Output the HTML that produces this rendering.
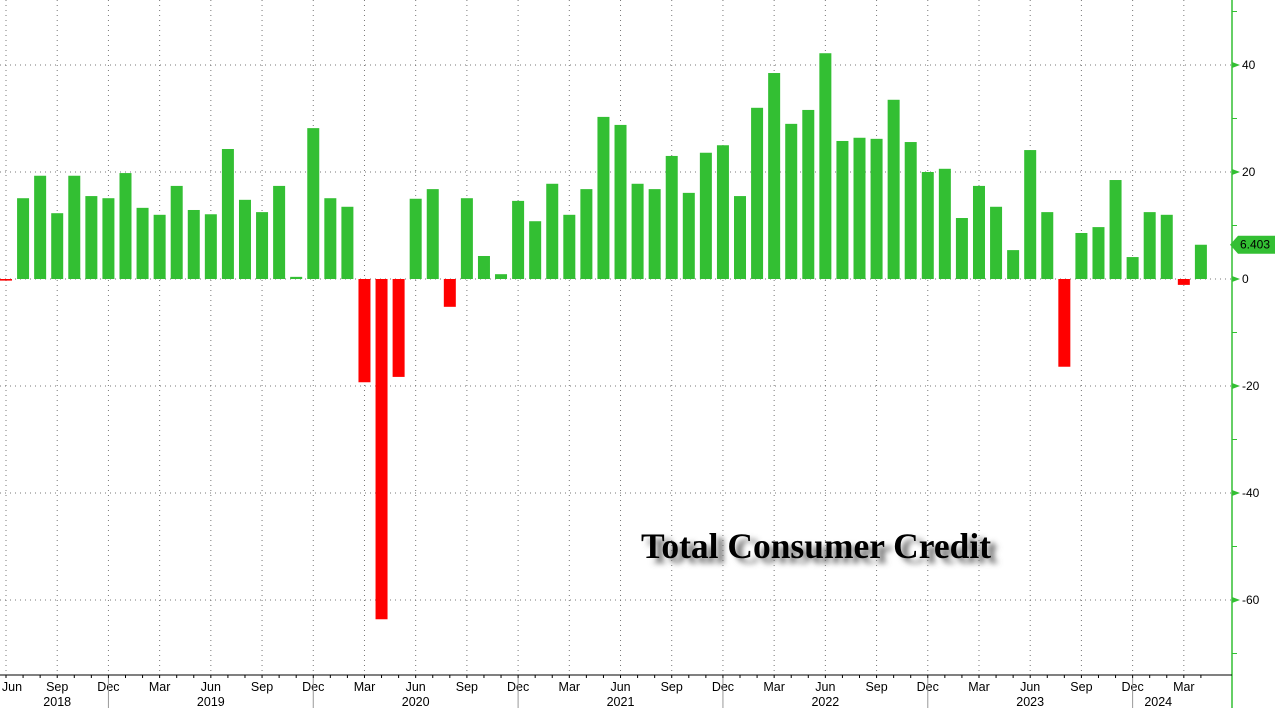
<!DOCTYPE html>
<html><head><meta charset="utf-8"><style>
html,body{margin:0;padding:0;background:#fff;width:1275px;height:708px;overflow:hidden}
svg{display:block}
</style></head><body>
<svg id="c" width="1275" height="708" xmlns="http://www.w3.org/2000/svg" font-family="Liberation Sans, sans-serif"></svg>
<script>
var v=[-0.3,15.1,19.3,12.3,19.3,15.5,15.1,19.8,13.3,12,17.4,12.9,12.1,24.3,14.8,12.5,17.4,0.4,28.2,15.1,13.5,-19.3,-63.6,-18.3,15,16.8,-5.2,15.1,4.3,0.9,14.6,10.8,17.8,12,16.8,30.3,28.8,17.8,16.8,23,16.1,23.6,25,15.5,32,38.5,29,31.6,42.2,25.8,26.4,26.2,33.5,25.6,20,20.6,11.4,17.4,13.5,5.4,24.1,12.5,-16.4,8.6,9.7,18.5,4.1,12.5,12,-1.1,6.403];
var Z=279,S=5.35,P=17.07,X0=6,s='';
function y(val){return Z-val*S;}
[40,20,0,-20,-40,-60].forEach(function(t){s+='<line x1="0" x2="1232" y1="'+y(t)+'" y2="'+y(t)+'" stroke="#777" stroke-width="1" stroke-dasharray="1,4"/>';});
for(var i=0;i<=70;i+=3){var x=X0+i*P;s+='<line x1="'+x+'" x2="'+x+'" y1="0" y2="675" stroke="#777" stroke-width="1" stroke-dasharray="1,4"/>';}
v.forEach(function(val,i){var cx=X0+i*P;var yt=val>=0?y(val):Z;var h=Math.abs(val)*S;if(h<1)h=1.2;
 s+='<rect x="'+(cx-6)+'" y="'+yt+'" width="12" height="'+h+'" fill="'+(val>=0?'#33bf33':'#ff0000')+'"/>';});
s+='<line x1="1232" x2="1232" y1="0" y2="708" stroke="#33bf33" stroke-width="1.5"/>';
[40,20,0,-20,-40,-60].forEach(function(t){var yy=y(t);
 s+='<polygon points="1232,'+(yy-3)+' 1240,'+yy+' 1232,'+(yy+3)+'" fill="#33bf33"/>';
 s+='<text x="1242" y="'+(yy+4)+'" font-size="12" fill="#000">'+t+'</text>';});
[50,30,10,-10,-30,-50,-70].forEach(function(t){var yy=y(t);s+='<line x1="1232" x2="1237" y1="'+yy+'" y2="'+yy+'" stroke="#33bf33"/>';});
var yl=y(6.403);
s+='<polygon points="1230,'+yl+' 1238,'+(yl-9)+' 1275,'+(yl-9)+' 1275,'+(yl+9)+' 1238,'+(yl+9)+'" fill="#33bf33"/>';
s+='<text x="1240" y="'+(yl+4)+'" font-size="12" fill="#000">6.403</text>';
s+='<line x1="0" x2="1232" y1="675" y2="675" stroke="#000" stroke-width="1"/>';
var mn=['Jun','Sep','Dec','Mar'];
for(var i=0;i<=70;i++){var x=X0+i*P;s+='<line x1="'+x+'" x2="'+x+'" y1="675" y2="678" stroke="#000"/>';}
for(var i=0,k=0;i<=70;i+=3,k++){var x=X0+i*P;if(i==0)x=12;s+='<text x="'+x+'" y="691" font-size="12.5" text-anchor="middle" fill="#000">'+mn[k%4]+'</text>';
 if(k%4==2&&i>0)s+='<line x1="'+(X0+i*P)+'" x2="'+(X0+i*P)+'" y1="678" y2="708" stroke="#999"/>';}
var yrs=['2018','2019','2020','2021','2022','2023','2024'];
yrs.forEach(function(yr,j){var i=j==0?3:12*j;var x=X0+i*P;if(j==6)x=X0+66*P+(69-66)*P/2;s+='<text x="'+x+'" y="706" font-size="12.5" text-anchor="middle" fill="#000">'+yr+'</text>';});
s+='<defs><filter id="sh" x="-10%" y="-50%" width="120%" height="200%"><feGaussianBlur stdDeviation="3"/></filter></defs>';
s+='<text x="648" y="563" font-family="Liberation Serif, serif" font-weight="bold" font-size="36" fill="#666" filter="url(#sh)" textLength="350" lengthAdjust="spacingAndGlyphs">Total Consumer Credit</text>';
s+='<text x="641" y="558" font-family="Liberation Serif, serif" font-weight="bold" font-size="36" fill="#000" textLength="350" lengthAdjust="spacingAndGlyphs">Total Consumer Credit</text>';
document.getElementById('c').innerHTML=s;
</script>
</body></html>
